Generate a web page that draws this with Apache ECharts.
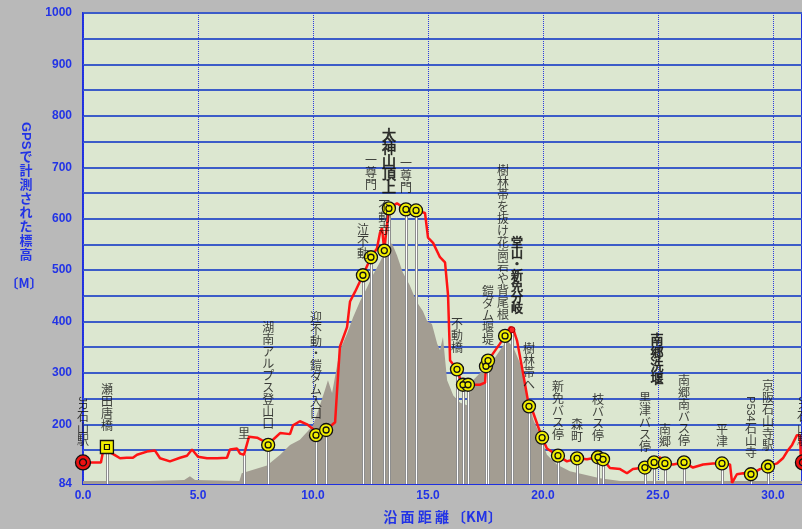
<!DOCTYPE html>
<html>
<head>
<meta charset="utf-8">
<script src="https://cdn.jsdelivr.net/npm/echarts@6/dist/echarts.min.js"></script>
<style>
html, body { margin: 0; padding: 0; background: #b9b9b9; }
#main { width: 802px; height: 529px; }
</style>
</head>
<body>
<div id="main"></div>
<script>
// GPS track: distance (km) / altitude (m)
const trackKm = [0, 0.78, 0.87, 1.0, 1.17, 1.35, 1.61, 1.9, 2.17, 2.35, 2.78, 3.13, 3.35, 3.78, 4.22, 4.52, 4.74, 5.0, 5.39, 5.83,
  6.26, 6.39, 6.7, 6.83, 7.0, 7.22, 7.57, 7.83, 8.05, 8.26, 8.57, 9.0, 9.13, 9.43, 9.74, 10.0, 10.13, 10.57, 10.96, 11.04,
  11.17, 11.48, 11.61, 11.83, 12.17, 12.52, 12.78, 12.91, 13.0, 13.1, 13.2, 13.3, 13.65, 14.04, 14.48, 14.87, 15.0, 15.22, 15.52, 15.74,
  15.87, 15.96, 16.26, 16.39, 16.52, 16.74, 17.26, 17.48, 17.52, 17.61, 17.83, 18.13, 18.35, 18.57, 18.7, 18.87, 19.13, 19.39, 19.57, 19.96,
  20.17, 20.65, 21.04, 21.48, 21.91, 22.39, 22.61, 22.91, 23.35, 23.65, 23.91, 24.43, 24.83, 25.09, 25.3, 25.65, 26.13, 26.52, 26.96, 27.39,
  27.78, 28.13, 28.22, 28.43, 28.7, 29.04, 29.43, 29.78, 30.17, 30.43, 30.61, 30.83, 31.04, 31.17, 31.22, 31.3];
const trackAlt = [126, 126, 147, 147, 146, 141, 134, 135, 135, 141, 147, 149, 134, 128, 135, 139, 151, 137, 134, 134,
  135, 151, 153, 143, 141, 176, 174, 168, 160, 170, 183, 181, 198, 206, 200, 191, 179, 189, 204, 261,
  351, 389, 439, 458, 490, 525, 542, 572, 582, 538, 582, 620, 630, 618, 616, 611, 563, 553, 525, 515,
  452, 324, 307, 290, 277, 277, 277, 281, 313, 324, 338, 357, 372, 389, 386, 363, 300, 235, 223, 174,
  153, 139, 128, 134, 132, 136, 132, 115, 113, 105, 113, 116, 126, 136, 124, 122, 126, 116, 122, 124,
  124, 122, 86, 103, 105, 103, 113, 118, 124, 134, 147, 160, 179, 179, 128, 126];

// terrain silhouette (grey)
const terrainKm = [0, 2.9, 4.4, 4.65, 4.87, 6.8, 6.9, 8.0, 8.57, 9.0, 9.43, 9.74, 10.0, 10.3, 10.52, 10.65, 10.83, 11.04, 11.17, 11.48,
  11.74, 12.04, 12.35, 12.6, 12.9, 13.2, 13.43, 13.65, 13.9, 14.2, 14.5, 14.78, 14.96, 15.17, 15.4, 15.52, 15.65, 15.83, 16.1, 16.4,
  16.7, 16.96, 17.26, 17.57, 17.83, 18.13, 18.43, 18.7, 19.0, 19.3, 19.57, 19.87, 20.17, 20.6, 21.17, 22.48, 23.35, 31.3];
const terrainAlt = [90, 90, 92, 99, 92, 90, 105, 120, 141, 160, 170, 185, 198, 237, 267, 286, 261, 313, 344, 376,
  408, 439, 466, 490, 515, 542, 552, 529, 496, 471, 439, 420, 401, 395, 357, 344, 370, 286, 256, 242,
  237, 286, 300, 313, 324, 344, 363, 351, 319, 261, 210, 179, 141, 122, 109, 95, 90, 90];

// waypoints: y = yellow ring, s = square, r = red start/goal, d = small red dot, n = line only
const wpKm = [0, 1.04, 7.0, 8.05, 10.13, 10.57, 12.17, 12.52, 13.1, 13.3, 14.04, 14.48, 16.26, 16.52, 16.74, 17.52, 17.61,
  18.35, 18.65, 19.39, 19.96, 20.65, 21.48, 22.39, 22.61, 24.43, 24.83, 25.3, 26.13, 27.78, 29.04, 29.78, 31.3];
const wpAlt = [126, 156, 141, 160, 179, 189, 490, 525, 538, 620, 618, 616, 307, 277, 277, 313, 324,
  372, 384, 235, 174, 139, 134, 136, 132, 116, 126, 124, 126, 124, 103, 118, 126];
const wpName = ['JR石山駅', '瀬田唐橋', '里', '湖南アルプス登山口', '迎不動・鎧ダム入口', '', '泣不動', '一尊門', '不動寺', '太神山頂上', '一尊門', '',
  '不動橋', '', '', '', '鎧ダム堰堤', '樹林帯を抜け花崗岩や背尾根', '堂山・新免分岐', '樹林帯へ', '', '新免バス停', '森町', '枝バス停', '',
  '黒津バス停', '南郷洗堰', '南郷', '南郷南バス停', '平津', 'P534石山寺', '京阪石山寺駅', 'JR石山駅'];
const wpKind = ['r', 's', 'n', 'y', 'y', 'y', 'y', 'y', 'y', 'y', 'y', 'y', 'y', 'y', 'y', 'y', 'y',
  'y', 'd', 'y', 'y', 'y', 'y', 'y', 'y', 'y', 'y', 'y', 'y', 'y', 'y', 'y', 'r'];

const yLabelValues = [84, 200, 300, 400, 500, 600, 700, 800, 900, 1000];
const yGridValues = [150, 200, 250, 300, 350, 400, 450, 500, 550, 600, 650, 700, 750, 800, 850, 900, 950, 1000];

const BLUE = '#2233e6';
const FONT_JP = '"Noto Sans CJK JP", sans-serif';

let myChart = echarts.init(document.getElementById('main'));

// label layout tweaks
const bigGap = { 7: 66, 26: 77 };           // px above the point
const shiftX = { 17: -2, 18: 5, 26: 3 };     // px sideways
const boldStyle = { 9: [14, 13], 18: [12, 11], 26: [13, 13] };

let track = trackKm.map((k, i) => [k, trackAlt[i]]);
let terrain = terrainKm.map((k, i) => [k, terrainAlt[i]]);

let drops = [];
let ringOuter = [], squares = [], reds = [], dots = [];
let labels = [], latinLabels = [];

for (let i = 0; i < wpKm.length; i++) {
  let p = [wpKm[i], wpAlt[i]];
  let kind = wpKind[i];
  if (kind !== 'r') drops.push({ coords: [p, [wpKm[i], 84]] });
  if (kind === 'y') ringOuter.push(p);
  if (kind === 's') squares.push(p);
  if (kind === 'r') reds.push(p);
  if (kind === 'd') dots.push(p);

  let name = wpName[i];
  if (!name) continue;
  let m = name.match(/^[A-Za-z0-9]+/);
  let latin = m ? m[0] : '';
  let cjk = name.slice(latin.length);
  let gap = bigGap[i] != null ? bigGap[i] : 15;
  let dx = shiftX[i] || 0;
  let fs = 12, lh = 12, bold = false;
  if (boldStyle[i]) { fs = boldStyle[i][0]; lh = boldStyle[i][1]; bold = true; }
  labels.push({
    value: p,
    label: {
      show: true, position: 'top', distance: gap, offset: [dx, 0],
      formatter: cjk.split('').join('\n'),
      fontSize: fs, lineHeight: lh, fontWeight: 'normal',
      fontFamily: FONT_JP, color: '#111',
      textBorderColor: bold ? '#111' : 'transparent', textBorderWidth: bold ? 0.7 : 0
    }
  });
  if (latin) {
    latinLabels.push({
      value: p,
      label: {
        show: true, position: [dx, -(gap + cjk.length * lh + 1)],
        rotate: -90, align: 'right', verticalAlign: 'middle',
        formatter: latin, fontSize: 11, fontFamily: 'Liberation Sans', color: '#111'
      }
    });
  }
}

myChart.setOption({
  animation: false,
  backgroundColor: '#b9b9b9',
  grid: {
    left: 83, right: 0, top: 13, bottom: 36,
    show: true, backgroundColor: '#dce7d0',
    borderColor: '#1f30e0', borderWidth: 2
  },
  xAxis: {
    type: 'value', min: 0, max: 31.26, interval: 5,
    name: '沿 面 距 離 〔KM〕', nameLocation: 'middle', nameGap: 26,
    nameTextStyle: { color: BLUE, fontWeight: 'bold', fontSize: 14, fontFamily: FONT_JP },
    axisLine: { show: false }, axisTick: { show: false },
    axisLabel: {
      color: BLUE, fontWeight: 'bold', fontSize: 12, fontFamily: 'Liberation Sans', margin: 6,
      showMaxLabel: false, formatter: v => v.toFixed(1)
    },
    splitLine: { show: true, lineStyle: { type: 'dotted', color: '#2a3ae0', width: 1 } }
  },
  yAxis: {
    type: 'value', min: 84, max: 1000,
    axisLine: { show: false },
    axisTick: { show: false, customValues: yGridValues },
    axisLabel: {
      customValues: yLabelValues, color: BLUE, fontWeight: 'bold', fontSize: 12,
      fontFamily: 'Liberation Sans', margin: 11, formatter: v => String(v)
    },
    splitLine: { show: true, lineStyle: { color: '#3c5cc8', width: 2 } }
  },
  graphic: [
    { type: 'text', x: 26, y: 122, rotation: -Math.PI / 2,
      style: { text: 'GPS', font: 'bold 13px "Liberation Sans"', fill: BLUE, textAlign: 'left', textVerticalAlign: 'middle' } },
    { type: 'text', x: 26, y: 149,
      style: { text: 'で計測された標高'.split('').join('\n'), font: 'bold 13px ' + FONT_JP, lineHeight: 14,
        fill: BLUE, textAlign: 'center', textVerticalAlign: 'top' } },
    { type: 'text', x: 24, y: 283,
      style: { text: '〔M〕', font: 'bold 13px ' + FONT_JP, fill: BLUE, textAlign: 'center', textVerticalAlign: 'middle' } }
  ],
  series: [
    {
      type: 'line', data: terrain, showSymbol: false, silent: true, z: 1,
      lineStyle: { width: 0 }, areaStyle: { color: '#a39d92', opacity: 1 }
    },
    {
      type: 'lines', coordinateSystem: 'cartesian2d', data: drops, silent: true, z: 2,
      lineStyle: { color: '#8e8e8e', width: 3, opacity: 1 }
    },
    {
      type: 'lines', coordinateSystem: 'cartesian2d', data: drops, silent: true, z: 2,
      lineStyle: { color: '#ffffff', width: 1, opacity: 1 }
    },
    {
      type: 'line', data: track, showSymbol: false, silent: true, z: 3,
      lineStyle: { color: '#ff1414', width: 2.5 }
    },
    {
      type: 'scatter', data: ringOuter, symbolSize: 13, clip: false, silent: true, z: 4,
      itemStyle: { color: '#f2ef00', borderColor: '#111', borderWidth: 1.3, opacity: 1 }
    },
    {
      type: 'scatter', data: ringOuter, symbolSize: 6, clip: false, silent: true, z: 5,
      itemStyle: { color: '#f2ef00', borderColor: '#111', borderWidth: 1.3, opacity: 1 }
    },
    {
      type: 'scatter', data: squares, symbol: 'rect', symbolSize: 13, clip: false, silent: true, z: 4,
      itemStyle: { color: '#f2ef00', borderColor: '#111', borderWidth: 1.3, opacity: 1 }
    },
    {
      type: 'scatter', data: squares, symbol: 'rect', symbolSize: 5, clip: false, silent: true, z: 5,
      itemStyle: { color: '#f2ef00', borderColor: '#111', borderWidth: 1.2, opacity: 1 }
    },
    {
      type: 'scatter', data: reds, symbolSize: 15, clip: false, silent: true, z: 4,
      itemStyle: { color: '#ee1111', borderColor: '#111', borderWidth: 1.3, opacity: 1 }
    },
    {
      type: 'scatter', data: reds, symbolSize: 7, clip: false, silent: true, z: 5,
      itemStyle: { color: '#ee1111', borderColor: '#111', borderWidth: 1.3, opacity: 1 }
    },
    {
      type: 'scatter', data: dots, symbolSize: 6, clip: false, silent: true, z: 5,
      itemStyle: { color: '#ff2020', borderColor: '#aa0000', borderWidth: 1, opacity: 1 }
    },
    {
      type: 'scatter', data: labels, symbolSize: 1, clip: false, silent: true, z: 6,
      itemStyle: { color: 'rgba(0,0,0,0)' }
    },
    {
      type: 'scatter', data: latinLabels, symbolSize: 1, clip: false, silent: true, z: 6,
      itemStyle: { color: 'rgba(0,0,0,0)' }
    }
  ]
});
</script>
</body>
</html>
